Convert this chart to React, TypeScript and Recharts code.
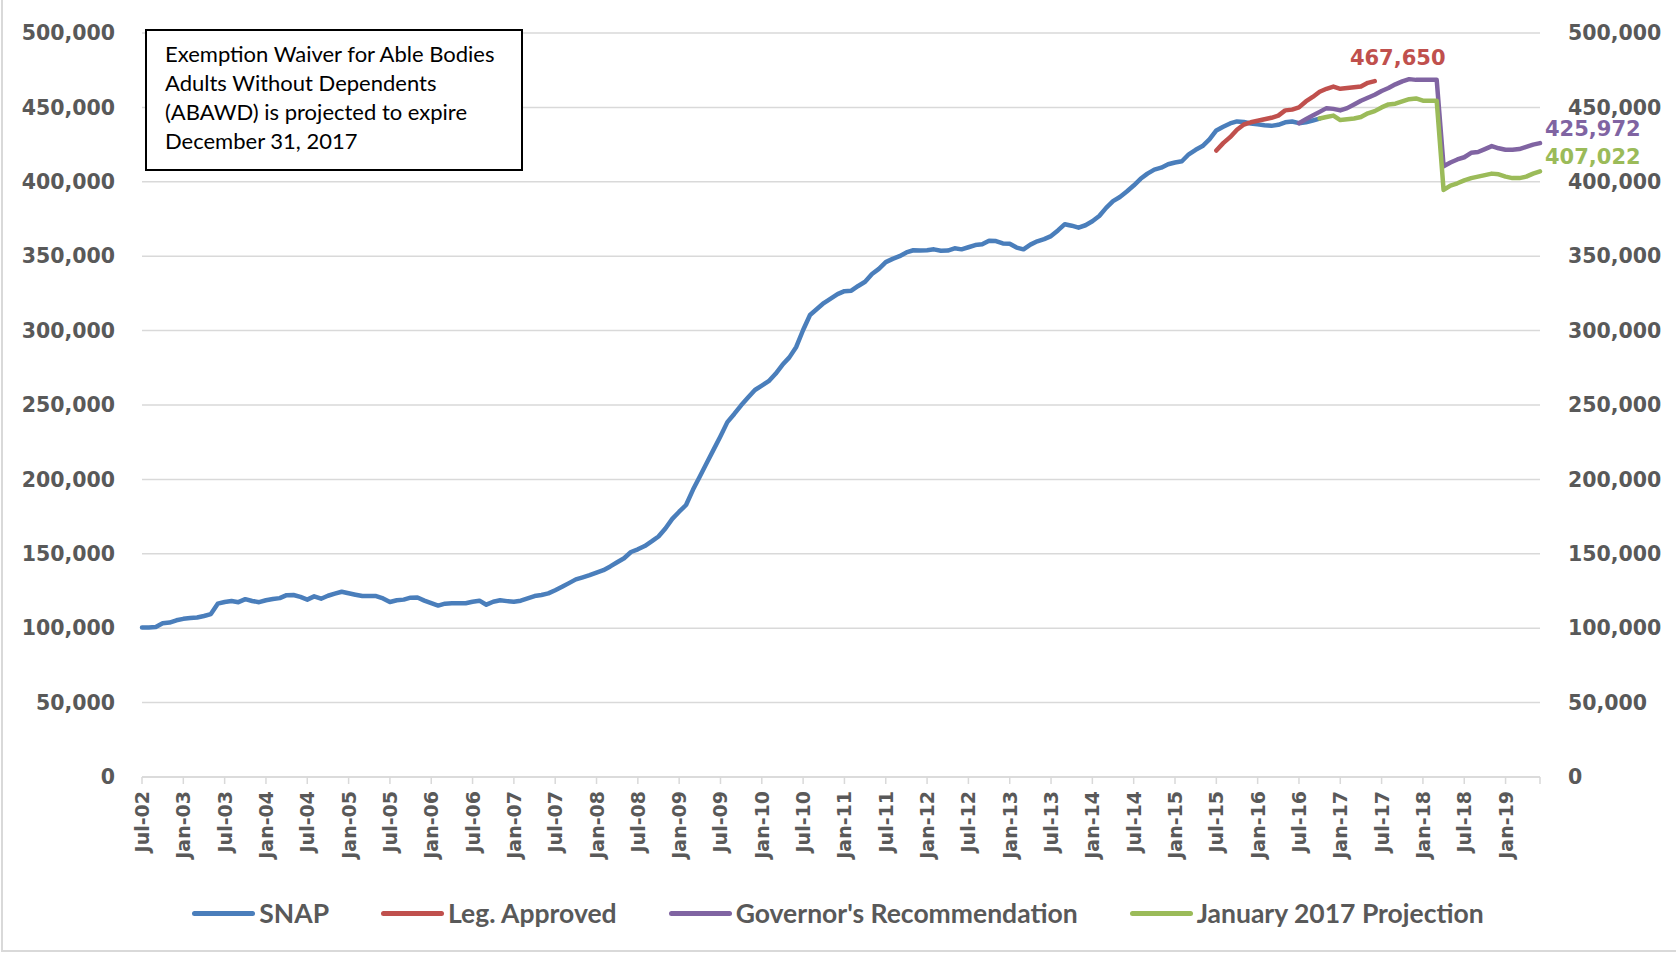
import { CartesianGrid, LabelList, Legend, Line, LineChart, XAxis, YAxis } from "recharts";

const MONTH_NAMES = ["Jan", "Feb", "Mar", "Apr", "May", "Jun", "Jul", "Aug", "Sep", "Oct", "Nov", "Dec"];

// monthly categories, Jul-02 through Jun-19
const months: string[] = Array.from({ length: 204 }, (_, i) => {
  const m = (6 + i) % 12;
  const yr = 2 + Math.floor((6 + i) / 12);
  return `${MONTH_NAMES[m]}-${String(yr).padStart(2, "0")}`;
});

// actual caseload, Jul-02 .. Oct-16 (one row per fiscal year)
const snap = [
  100500, 100500, 100800, 103300, 103800, 105300, 106300, 106800, 107200, 108200, 109500, 116500,
  117600, 118300, 117500, 119500, 118300, 117500, 118800, 119600, 120200, 122200, 122300, 121000,
  119200, 121400, 119800, 121800, 123200, 124500, 123500, 122500, 121600, 121600, 121600, 120000,
  117600, 118800, 119200, 120500, 120600, 118500, 116800, 115200, 116500, 116700, 116700, 116800,
  117800, 118500, 115800, 117800, 118800, 118200, 117800, 118500, 120000, 121600, 122300, 123400,
  125500, 127800, 130300, 132800, 134200, 135700, 137400, 139000, 141500, 144300, 147000, 151200,
  153000, 155200, 158300, 161600, 167000, 173500, 178300, 182800, 193000, 202000, 211000, 220000,
  229000, 238500, 244000, 249800, 255000, 260100, 263000, 266000, 271000, 277000, 282000, 289000,
  300400, 310500, 314500, 318500, 321500, 324500, 326500, 326800, 330000, 332800, 338000, 341500,
  346000, 348200, 350000, 352500, 354000, 353800, 354000, 354600, 353700, 353800, 355300, 354600,
  356000, 357500, 358000, 360400, 360200, 358600, 358400, 355800, 354600, 357800, 360000, 361500,
  363500, 367300, 371500, 370500, 369200, 370800, 373500, 377000, 382500, 387000, 389800, 393500,
  397500, 402000, 405500, 408200, 409500, 411800, 413000, 413800, 418500, 421500, 424000, 428500,
  434500, 437000, 439200, 440600, 440200, 439200, 438600, 438000, 437600, 438300, 440000, 440500,
  439400, 440000, 441200, 442500,
];
const SNAP_START = 0;

// Jul-15 .. Jun-17
const legApproved = [
  421000, 426000, 430000, 435000, 438500, 440000, 441000, 442000, 443000, 444500, 448000, 448500,
  450000, 454000, 457000, 460500, 462500, 464000, 462500, 463000, 463500, 464000, 466500, 467650,
];
const LEG_START = 156;

// Jul-16 .. Jun-19
const governor = [
  439400, 442000, 444500, 447000, 449500, 449000, 448000, 449500, 452000, 454500, 456500, 458500,
  461000, 463000, 465500, 467500, 469000, 468500, 468500, 468500, 468500, 410500, 413000, 415000,
  416500, 419500, 420000, 422000, 424000, 422500, 421500, 421500, 422000, 423500, 425000, 425972,
];
const GOV_START = 168;

// Oct-16 .. Jun-19
const projection = [
  442500, 443500, 444500, 441500, 442000, 442500, 443500, 446000, 447500, 450000, 452000, 452500,
  454000, 455500, 456000, 454500, 454500, 454500, 394500, 397500, 399000, 401000, 402500, 403500,
  404500, 405500, 405000, 403500, 402500, 402500, 403500, 405500, 407022,
];
const PROJ_START = 171;

const yTicks = [0, 50000, 100000, 150000, 200000, 250000, 300000, 350000, 400000, 450000, 500000];
const xTicks = [...months.filter((_, i) => i % 6 === 0), months[months.length - 1]];
const LAST_MONTH = months[months.length - 1];

const seriesNames = ["SNAP", "Leg. Approved", "Governor's Recommendation", "January 2017 Projection"];
const seriesColors = ["#4a7ebb", "#c0504d", "#8064a2", "#9bbb59"];

const noteLines = [
  "Exemption Waiver for Able Bodies",
  "Adults Without Dependents",
  "(ABAWD) is projected to expire",
  "December 31, 2017",
];

const pick = (arr: number[], start: number, i: number) =>
  i >= start && i < start + arr.length ? arr[i - start] : null;

const data = months.map((month, i) => ({
  month,
  snap: pick(snap, SNAP_START, i),
  leg: pick(legApproved, LEG_START, i),
  gov: pick(governor, GOV_START, i),
  proj: pick(projection, PROJ_START, i),
}));

const GRAY = "#595959";
const AXIS_FONT = "DejaVu Sans";
const fmt = (v: number) => v.toLocaleString("en-US");

const XTick = ({ x, y, payload }: any) => {
  if (payload.value === LAST_MONTH) return <g />;
  return (
    <text
      x={x}
      y={y}
      transform={`rotate(-90, ${x}, ${y})`}
      textAnchor="end"
      dominantBaseline="central"
      fill={GRAY}
      fontSize={19}
      fontFamily={AXIS_FONT}
      fontWeight="bold"
    >
      {payload.value}
    </text>
  );
};

// value label drawn only at the final point of a series
const endLabel =
  (color: string, dx: number, dy: number, anchor: "start" | "middle" | "end", lastIndex: number) =>
  (props: any) => {
    const { x, y, value, index } = props;
    if (index !== lastIndex || value == null) return null;
    return (
      <text
        x={x + dx}
        y={y + dy}
        textAnchor={anchor}
        dominantBaseline="central"
        fill={color}
        fontSize={21}
        fontFamily={AXIS_FONT}
        fontWeight="bold"
      >
        {fmt(value)}
      </text>
    );
  };

// legend kept in series order
const renderLegend = () => (
  <div
    style={{
      display: "flex",
      justifyContent: "center",
      alignItems: "center",
      height: 30,
      gap: 52,
      fontFamily: "Lato",
      fontWeight: 700,
      fontSize: 26.5,
      color: GRAY,
    }}
  >
    {seriesNames.map((name, i) => (
      <div key={name} style={{ display: "flex", alignItems: "center" }}>
        <span
          style={{
            display: "inline-block",
            width: 63,
            height: 5,
            borderRadius: 3,
            background: seriesColors[i],
            marginRight: 4,
          }}
        />
        <span>{name}</span>
      </div>
    ))}
  </div>
);

const lineProps = {
  strokeWidth: 4.5,
  strokeLinecap: "round" as const,
  strokeLinejoin: "round" as const,
  dot: false,
  isAnimationActive: false,
};

const App = () => {
  return (
    <div style={{ position: "absolute", left: 0, top: 0, width: 1676, height: 955, background: "#fff" }}>
      <LineChart width={1676} height={955} data={data} margin={{ top: 33, right: 0, left: 0, bottom: 27 }}>
        <CartesianGrid vertical={false} stroke="#d9d9d9" strokeWidth={1.5} />
        <XAxis
          dataKey="month"
          ticks={xTicks}
          interval={0}
          height={121}
          tick={<XTick />}
          tickSize={7}
          tickMargin={7}
          stroke="#d9d9d9"
          axisLine={{ stroke: "#d9d9d9", strokeWidth: 1.5 }}
          tickLine={{ stroke: "#d9d9d9", strokeWidth: 1.5 }}
        />
        <YAxis
          domain={[0, 500000]}
          ticks={yTicks}
          width={142}
          axisLine={false}
          tickLine={false}
          tickSize={0}
          tickMargin={27}
          tickFormatter={fmt}
          tick={{ fill: GRAY, fontSize: 20.5, fontFamily: AXIS_FONT, fontWeight: "bold" }}
        />
        <YAxis
          yAxisId="right"
          orientation="right"
          domain={[0, 500000]}
          ticks={yTicks}
          width={136}
          axisLine={false}
          tickLine={false}
          tickSize={0}
          tickMargin={28}
          tickFormatter={fmt}
          tick={{ fill: GRAY, fontSize: 20.5, fontFamily: AXIS_FONT, fontWeight: "bold" }}
        />
        <Legend verticalAlign="bottom" align="center" content={renderLegend} />
        <Line dataKey="snap" name={seriesNames[0]} stroke={seriesColors[0]} {...lineProps} />
        <Line dataKey="leg" name={seriesNames[1]} stroke={seriesColors[1]} {...lineProps}>
          <LabelList
            dataKey="leg"
            content={endLabel(seriesColors[1], 23, -23, "middle", LEG_START + legApproved.length - 1)}
          />
        </Line>
        <Line yAxisId="right" dataKey="gov" name={seriesNames[2]} stroke={seriesColors[2]} {...lineProps}>
          <LabelList
            dataKey="gov"
            content={endLabel(seriesColors[2], 5, -14, "start", GOV_START + governor.length - 1)}
          />
        </Line>
        <Line yAxisId="right" dataKey="proj" name={seriesNames[3]} stroke={seriesColors[3]} {...lineProps}>
          <LabelList
            dataKey="proj"
            content={endLabel(seriesColors[3], 5, -14, "start", PROJ_START + projection.length - 1)}
          />
        </Line>
      </LineChart>

      {/* callout box */}
      <div
        style={{
          position: "absolute",
          left: 145,
          top: 29,
          width: 378,
          height: 142,
          boxSizing: "border-box",
          border: "2px solid #000",
          background: "#fff",
          padding: "8px 0 0 18px",
          fontFamily: "Lato",
          fontSize: 22,
          lineHeight: "29px",
          color: "#000",
        }}
      >
        {noteLines.map((line) => (
          <div key={line}>{line}</div>
        ))}
      </div>

      {/* chart frame edges */}
      <div
        style={{
          position: "absolute",
          left: 1,
          top: 0,
          width: 1675,
          height: 952,
          boxSizing: "border-box",
          borderLeft: "2px solid #d9d9d9",
          borderBottom: "2px solid #d9d9d9",
          pointerEvents: "none",
        }}
      />
    </div>
  );
};

export default App;
